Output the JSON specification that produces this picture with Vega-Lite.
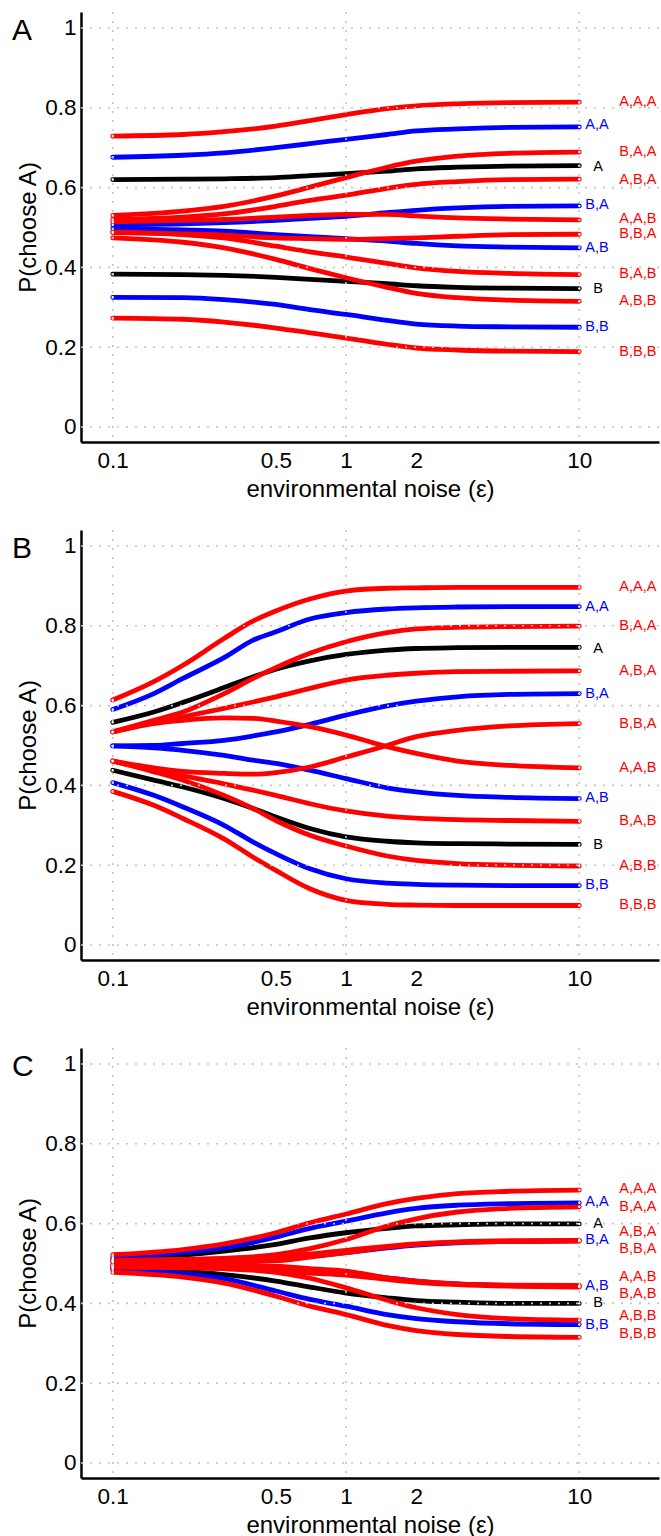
{
"$schema": "https://vega.github.io/schema/vega-lite/v6.json",
"padding": {"left": 12, "top": 11, "right": 0, "bottom": 0},
"spacing": 88,
"bounds": "flush",
"config": {
  "font": "Liberation Sans",
  "view": {"stroke": null},
  "axis": {"grid": false, "ticks": false, "tickSize": 0, "domainColor": "black", "domainWidth": 2.5, "labelFontSize": 22.5, "labelColor": "black", "titleFontSize": 24, "titleFontWeight": "normal", "titleColor": "black", "labelFont": "Liberation Sans", "titleFont": "Liberation Sans", "labelOverlap": false},
  "axisX": {"labelPadding": 7, "titlePadding": 6},
  "axisY": {"labelPadding": 5, "titlePadding": 4},
  "title": {"anchor": "start", "frame": "group", "orient": "top", "offset": 0, "dx": -69, "dy": 39, "fontSize": 30, "fontWeight": "normal", "font": "Liberation Sans", "color": "black"}
},
"datasets": {
"curves": [
{"p":"A","s":"A","x":0.1,"y":0.620},{"p":"A","s":"A","x":0.2,"y":0.621},{"p":"A","s":"A","x":0.3,"y":0.622},{"p":"A","s":"A","x":0.5,"y":0.625},{"p":"A","s":"A","x":0.7,"y":0.630},{"p":"A","s":"A","x":1,"y":0.635},{"p":"A","s":"A","x":1.5,"y":0.641},{"p":"A","s":"A","x":2,"y":0.647},{"p":"A","s":"A","x":3,"y":0.651},{"p":"A","s":"A","x":5,"y":0.654},{"p":"A","s":"A","x":10,"y":0.655},
{"p":"A","s":"B","x":0.1,"y":0.383},{"p":"A","s":"B","x":0.2,"y":0.382},{"p":"A","s":"B","x":0.3,"y":0.380},{"p":"A","s":"B","x":0.5,"y":0.375},{"p":"A","s":"B","x":0.7,"y":0.370},{"p":"A","s":"B","x":1,"y":0.365},{"p":"A","s":"B","x":1.5,"y":0.359},{"p":"A","s":"B","x":2,"y":0.354},{"p":"A","s":"B","x":3,"y":0.350},{"p":"A","s":"B","x":5,"y":0.348},{"p":"A","s":"B","x":10,"y":0.347},
{"p":"A","s":"A,A","x":0.1,"y":0.676},{"p":"A","s":"A,A","x":0.2,"y":0.681},{"p":"A","s":"A,A","x":0.3,"y":0.687},{"p":"A","s":"A,A","x":0.5,"y":0.700},{"p":"A","s":"A,A","x":0.7,"y":0.710},{"p":"A","s":"A,A","x":1,"y":0.721},{"p":"A","s":"A,A","x":1.5,"y":0.733},{"p":"A","s":"A,A","x":2,"y":0.742},{"p":"A","s":"A,A","x":3,"y":0.747},{"p":"A","s":"A,A","x":5,"y":0.751},{"p":"A","s":"A,A","x":10,"y":0.752},
{"p":"A","s":"A,B","x":0.1,"y":0.497},{"p":"A","s":"A,B","x":0.2,"y":0.494},{"p":"A","s":"A,B","x":0.3,"y":0.491},{"p":"A","s":"A,B","x":0.5,"y":0.482},{"p":"A","s":"A,B","x":0.7,"y":0.477},{"p":"A","s":"A,B","x":1,"y":0.472},{"p":"A","s":"A,B","x":1.5,"y":0.466},{"p":"A","s":"A,B","x":2,"y":0.460},{"p":"A","s":"A,B","x":3,"y":0.454},{"p":"A","s":"A,B","x":5,"y":0.451},{"p":"A","s":"A,B","x":10,"y":0.449},
{"p":"A","s":"B,A","x":0.1,"y":0.507},{"p":"A","s":"B,A","x":0.2,"y":0.509},{"p":"A","s":"B,A","x":0.3,"y":0.512},{"p":"A","s":"B,A","x":0.5,"y":0.518},{"p":"A","s":"B,A","x":0.7,"y":0.523},{"p":"A","s":"B,A","x":1,"y":0.528},{"p":"A","s":"B,A","x":1.5,"y":0.537},{"p":"A","s":"B,A","x":2,"y":0.543},{"p":"A","s":"B,A","x":3,"y":0.549},{"p":"A","s":"B,A","x":5,"y":0.553},{"p":"A","s":"B,A","x":10,"y":0.554},
{"p":"A","s":"B,B","x":0.1,"y":0.325},{"p":"A","s":"B,B","x":0.2,"y":0.324},{"p":"A","s":"B,B","x":0.3,"y":0.319},{"p":"A","s":"B,B","x":0.5,"y":0.307},{"p":"A","s":"B,B","x":0.7,"y":0.294},{"p":"A","s":"B,B","x":1,"y":0.282},{"p":"A","s":"B,B","x":1.5,"y":0.267},{"p":"A","s":"B,B","x":2,"y":0.258},{"p":"A","s":"B,B","x":3,"y":0.253},{"p":"A","s":"B,B","x":5,"y":0.251},{"p":"A","s":"B,B","x":10,"y":0.250},
{"p":"A","s":"A,A,A","x":0.1,"y":0.729},{"p":"A","s":"A,A,A","x":0.2,"y":0.733},{"p":"A","s":"A,A,A","x":0.3,"y":0.740},{"p":"A","s":"A,A,A","x":0.5,"y":0.754},{"p":"A","s":"A,A,A","x":0.7,"y":0.768},{"p":"A","s":"A,A,A","x":1,"y":0.783},{"p":"A","s":"A,A,A","x":1.5,"y":0.798},{"p":"A","s":"A,A,A","x":2,"y":0.805},{"p":"A","s":"A,A,A","x":3,"y":0.810},{"p":"A","s":"A,A,A","x":5,"y":0.813},{"p":"A","s":"A,A,A","x":10,"y":0.814},
{"p":"A","s":"A,A,B","x":0.1,"y":0.514},{"p":"A","s":"A,A,B","x":0.2,"y":0.518},{"p":"A","s":"A,A,B","x":0.3,"y":0.520},{"p":"A","s":"A,A,B","x":0.5,"y":0.526},{"p":"A","s":"A,A,B","x":0.7,"y":0.530},{"p":"A","s":"A,A,B","x":1,"y":0.533},{"p":"A","s":"A,A,B","x":1.5,"y":0.533},{"p":"A","s":"A,A,B","x":2,"y":0.529},{"p":"A","s":"A,A,B","x":3,"y":0.524},{"p":"A","s":"A,A,B","x":5,"y":0.521},{"p":"A","s":"A,A,B","x":10,"y":0.519},
{"p":"A","s":"A,B,A","x":0.1,"y":0.520},{"p":"A","s":"A,B,A","x":0.2,"y":0.526},{"p":"A","s":"A,B,A","x":0.3,"y":0.534},{"p":"A","s":"A,B,A","x":0.5,"y":0.553},{"p":"A","s":"A,B,A","x":0.7,"y":0.568},{"p":"A","s":"A,B,A","x":1,"y":0.581},{"p":"A","s":"A,B,A","x":1.5,"y":0.598},{"p":"A","s":"A,B,A","x":2,"y":0.608},{"p":"A","s":"A,B,A","x":3,"y":0.615},{"p":"A","s":"A,B,A","x":5,"y":0.620},{"p":"A","s":"A,B,A","x":10,"y":0.621},
{"p":"A","s":"A,B,B","x":0.1,"y":0.474},{"p":"A","s":"A,B,B","x":0.2,"y":0.463},{"p":"A","s":"A,B,B","x":0.3,"y":0.449},{"p":"A","s":"A,B,B","x":0.5,"y":0.420},{"p":"A","s":"A,B,B","x":0.7,"y":0.397},{"p":"A","s":"A,B,B","x":1,"y":0.374},{"p":"A","s":"A,B,B","x":1.5,"y":0.350},{"p":"A","s":"A,B,B","x":2,"y":0.335},{"p":"A","s":"A,B,B","x":3,"y":0.324},{"p":"A","s":"A,B,B","x":5,"y":0.318},{"p":"A","s":"A,B,B","x":10,"y":0.315},
{"p":"A","s":"B,A,A","x":0.1,"y":0.530},{"p":"A","s":"B,A,A","x":0.2,"y":0.541},{"p":"A","s":"B,A,A","x":0.3,"y":0.553},{"p":"A","s":"B,A,A","x":0.5,"y":0.579},{"p":"A","s":"B,A,A","x":0.7,"y":0.601},{"p":"A","s":"B,A,A","x":1,"y":0.625},{"p":"A","s":"B,A,A","x":1.5,"y":0.651},{"p":"A","s":"B,A,A","x":2,"y":0.666},{"p":"A","s":"B,A,A","x":3,"y":0.679},{"p":"A","s":"B,A,A","x":5,"y":0.686},{"p":"A","s":"B,A,A","x":10,"y":0.689},
{"p":"A","s":"B,A,B","x":0.1,"y":0.489},{"p":"A","s":"B,A,B","x":0.2,"y":0.482},{"p":"A","s":"B,A,B","x":0.3,"y":0.474},{"p":"A","s":"B,A,B","x":0.5,"y":0.453},{"p":"A","s":"B,A,B","x":0.7,"y":0.439},{"p":"A","s":"B,A,B","x":1,"y":0.426},{"p":"A","s":"B,A,B","x":1.5,"y":0.410},{"p":"A","s":"B,A,B","x":2,"y":0.399},{"p":"A","s":"B,A,B","x":3,"y":0.390},{"p":"A","s":"B,A,B","x":5,"y":0.385},{"p":"A","s":"B,A,B","x":10,"y":0.382},
{"p":"A","s":"B,B,A","x":0.1,"y":0.487},{"p":"A","s":"B,B,A","x":0.2,"y":0.484},{"p":"A","s":"B,B,A","x":0.3,"y":0.481},{"p":"A","s":"B,B,A","x":0.5,"y":0.474},{"p":"A","s":"B,B,A","x":0.7,"y":0.472},{"p":"A","s":"B,B,A","x":1,"y":0.470},{"p":"A","s":"B,B,A","x":1.5,"y":0.472},{"p":"A","s":"B,B,A","x":2,"y":0.474},{"p":"A","s":"B,B,A","x":3,"y":0.478},{"p":"A","s":"B,B,A","x":5,"y":0.482},{"p":"A","s":"B,B,A","x":10,"y":0.483},
{"p":"A","s":"B,B,B","x":0.1,"y":0.273},{"p":"A","s":"B,B,B","x":0.2,"y":0.270},{"p":"A","s":"B,B,B","x":0.3,"y":0.263},{"p":"A","s":"B,B,B","x":0.5,"y":0.248},{"p":"A","s":"B,B,B","x":0.7,"y":0.236},{"p":"A","s":"B,B,B","x":1,"y":0.223},{"p":"A","s":"B,B,B","x":1.5,"y":0.207},{"p":"A","s":"B,B,B","x":2,"y":0.198},{"p":"A","s":"B,B,B","x":3,"y":0.193},{"p":"A","s":"B,B,B","x":5,"y":0.190},{"p":"A","s":"B,B,B","x":10,"y":0.189},

{"p":"B","s":"A","x":0.1,"y":0.558},{"p":"B","s":"A","x":0.15,"y":0.584},{"p":"B","s":"A","x":0.2,"y":0.608},{"p":"B","s":"A","x":0.3,"y":0.645},{"p":"B","s":"A","x":0.4,"y":0.672},{"p":"B","s":"A","x":0.5,"y":0.691},{"p":"B","s":"A","x":0.7,"y":0.712},{"p":"B","s":"A","x":1,"y":0.728},{"p":"B","s":"A","x":1.5,"y":0.739},{"p":"B","s":"A","x":2,"y":0.743},{"p":"B","s":"A","x":3,"y":0.745},{"p":"B","s":"A","x":5,"y":0.746},{"p":"B","s":"A","x":10,"y":0.746},
{"p":"B","s":"B","x":0.1,"y":0.438},{"p":"B","s":"B","x":0.15,"y":0.413},{"p":"B","s":"B","x":0.2,"y":0.396},{"p":"B","s":"B","x":0.3,"y":0.367},{"p":"B","s":"B","x":0.4,"y":0.342},{"p":"B","s":"B","x":0.5,"y":0.321},{"p":"B","s":"B","x":0.7,"y":0.292},{"p":"B","s":"B","x":1,"y":0.271},{"p":"B","s":"B","x":1.5,"y":0.260},{"p":"B","s":"B","x":2,"y":0.256},{"p":"B","s":"B","x":3,"y":0.254},{"p":"B","s":"B","x":5,"y":0.253},{"p":"B","s":"B","x":10,"y":0.252},
{"p":"B","s":"A,A","x":0.1,"y":0.590},{"p":"B","s":"A,A","x":0.15,"y":0.630},{"p":"B","s":"A,A","x":0.2,"y":0.668},{"p":"B","s":"A,A","x":0.3,"y":0.720},{"p":"B","s":"A,A","x":0.4,"y":0.764},{"p":"B","s":"A,A","x":0.5,"y":0.785},{"p":"B","s":"A,A","x":0.7,"y":0.817},{"p":"B","s":"A,A","x":1,"y":0.833},{"p":"B","s":"A,A","x":1.5,"y":0.842},{"p":"B","s":"A,A","x":2,"y":0.845},{"p":"B","s":"A,A","x":3,"y":0.847},{"p":"B","s":"A,A","x":5,"y":0.848},{"p":"B","s":"A,A","x":10,"y":0.848},
{"p":"B","s":"A,B","x":0.1,"y":0.499},{"p":"B","s":"A,B","x":0.15,"y":0.494},{"p":"B","s":"A,B","x":0.2,"y":0.488},{"p":"B","s":"A,B","x":0.3,"y":0.475},{"p":"B","s":"A,B","x":0.4,"y":0.463},{"p":"B","s":"A,B","x":0.5,"y":0.455},{"p":"B","s":"A,B","x":0.7,"y":0.438},{"p":"B","s":"A,B","x":1,"y":0.417},{"p":"B","s":"A,B","x":1.5,"y":0.394},{"p":"B","s":"A,B","x":2,"y":0.384},{"p":"B","s":"A,B","x":3,"y":0.375},{"p":"B","s":"A,B","x":5,"y":0.370},{"p":"B","s":"A,B","x":10,"y":0.367},
{"p":"B","s":"B,A","x":0.1,"y":0.499},{"p":"B","s":"B,A","x":0.15,"y":0.500},{"p":"B","s":"B,A","x":0.2,"y":0.505},{"p":"B","s":"B,A","x":0.3,"y":0.513},{"p":"B","s":"B,A","x":0.4,"y":0.524},{"p":"B","s":"B,A","x":0.5,"y":0.534},{"p":"B","s":"B,A","x":0.7,"y":0.553},{"p":"B","s":"B,A","x":1,"y":0.576},{"p":"B","s":"B,A","x":1.5,"y":0.599},{"p":"B","s":"B,A","x":2,"y":0.611},{"p":"B","s":"B,A","x":3,"y":0.622},{"p":"B","s":"B,A","x":5,"y":0.628},{"p":"B","s":"B,A","x":10,"y":0.630},
{"p":"B","s":"B,B","x":0.1,"y":0.407},{"p":"B","s":"B,B","x":0.15,"y":0.375},{"p":"B","s":"B,B","x":0.2,"y":0.346},{"p":"B","s":"B,B","x":0.3,"y":0.300},{"p":"B","s":"B,B","x":0.4,"y":0.258},{"p":"B","s":"B,B","x":0.5,"y":0.229},{"p":"B","s":"B,B","x":0.7,"y":0.191},{"p":"B","s":"B,B","x":1,"y":0.166},{"p":"B","s":"B,B","x":1.5,"y":0.155},{"p":"B","s":"B,B","x":2,"y":0.152},{"p":"B","s":"B,B","x":3,"y":0.150},{"p":"B","s":"B,B","x":5,"y":0.149},{"p":"B","s":"B,B","x":10,"y":0.149},
{"p":"B","s":"A,A,A","x":0.1,"y":0.614},{"p":"B","s":"A,A,A","x":0.15,"y":0.660},{"p":"B","s":"A,A,A","x":0.2,"y":0.701},{"p":"B","s":"A,A,A","x":0.3,"y":0.768},{"p":"B","s":"A,A,A","x":0.4,"y":0.812},{"p":"B","s":"A,A,A","x":0.5,"y":0.837},{"p":"B","s":"A,A,A","x":0.7,"y":0.867},{"p":"B","s":"A,A,A","x":1,"y":0.887},{"p":"B","s":"A,A,A","x":1.5,"y":0.894},{"p":"B","s":"A,A,A","x":2,"y":0.895},{"p":"B","s":"A,A,A","x":3,"y":0.896},{"p":"B","s":"A,A,A","x":5,"y":0.896},{"p":"B","s":"A,A,A","x":10,"y":0.896},
{"p":"B","s":"A,A,B","x":0.1,"y":0.534},{"p":"B","s":"A,A,B","x":0.15,"y":0.555},{"p":"B","s":"A,A,B","x":0.2,"y":0.563},{"p":"B","s":"A,A,B","x":0.3,"y":0.569},{"p":"B","s":"A,A,B","x":0.4,"y":0.568},{"p":"B","s":"A,A,B","x":0.5,"y":0.561},{"p":"B","s":"A,A,B","x":0.7,"y":0.547},{"p":"B","s":"A,A,B","x":1,"y":0.526},{"p":"B","s":"A,A,B","x":1.5,"y":0.497},{"p":"B","s":"A,A,B","x":2,"y":0.480},{"p":"B","s":"A,A,B","x":3,"y":0.461},{"p":"B","s":"A,A,B","x":5,"y":0.450},{"p":"B","s":"A,A,B","x":10,"y":0.444},
{"p":"B","s":"A,B,A","x":0.1,"y":0.534},{"p":"B","s":"A,B,A","x":0.15,"y":0.558},{"p":"B","s":"A,B,A","x":0.2,"y":0.572},{"p":"B","s":"A,B,A","x":0.3,"y":0.593},{"p":"B","s":"A,B,A","x":0.4,"y":0.609},{"p":"B","s":"A,B,A","x":0.5,"y":0.622},{"p":"B","s":"A,B,A","x":0.7,"y":0.643},{"p":"B","s":"A,B,A","x":1,"y":0.664},{"p":"B","s":"A,B,A","x":1.5,"y":0.676},{"p":"B","s":"A,B,A","x":2,"y":0.681},{"p":"B","s":"A,B,A","x":3,"y":0.685},{"p":"B","s":"A,B,A","x":5,"y":0.686},{"p":"B","s":"A,B,A","x":10,"y":0.687},
{"p":"B","s":"A,B,B","x":0.1,"y":0.461},{"p":"B","s":"A,B,B","x":0.15,"y":0.434},{"p":"B","s":"A,B,B","x":0.2,"y":0.413},{"p":"B","s":"A,B,B","x":0.3,"y":0.375},{"p":"B","s":"A,B,B","x":0.4,"y":0.342},{"p":"B","s":"A,B,B","x":0.5,"y":0.312},{"p":"B","s":"A,B,B","x":0.7,"y":0.275},{"p":"B","s":"A,B,B","x":1,"y":0.248},{"p":"B","s":"A,B,B","x":1.5,"y":0.223},{"p":"B","s":"A,B,B","x":2,"y":0.212},{"p":"B","s":"A,B,B","x":3,"y":0.204},{"p":"B","s":"A,B,B","x":5,"y":0.200},{"p":"B","s":"A,B,B","x":10,"y":0.198},
{"p":"B","s":"B,A,A","x":0.1,"y":0.534},{"p":"B","s":"B,A,A","x":0.15,"y":0.563},{"p":"B","s":"B,A,A","x":0.2,"y":0.584},{"p":"B","s":"B,A,A","x":0.3,"y":0.630},{"p":"B","s":"B,A,A","x":0.4,"y":0.668},{"p":"B","s":"B,A,A","x":0.5,"y":0.695},{"p":"B","s":"B,A,A","x":0.7,"y":0.731},{"p":"B","s":"B,A,A","x":1,"y":0.760},{"p":"B","s":"B,A,A","x":1.5,"y":0.783},{"p":"B","s":"B,A,A","x":2,"y":0.792},{"p":"B","s":"B,A,A","x":3,"y":0.796},{"p":"B","s":"B,A,A","x":5,"y":0.798},{"p":"B","s":"B,A,A","x":10,"y":0.799},
{"p":"B","s":"B,A,B","x":0.1,"y":0.461},{"p":"B","s":"B,A,B","x":0.15,"y":0.438},{"p":"B","s":"B,A,B","x":0.2,"y":0.424},{"p":"B","s":"B,A,B","x":0.3,"y":0.404},{"p":"B","s":"B,A,B","x":0.4,"y":0.388},{"p":"B","s":"B,A,B","x":0.5,"y":0.375},{"p":"B","s":"B,A,B","x":0.7,"y":0.354},{"p":"B","s":"B,A,B","x":1,"y":0.336},{"p":"B","s":"B,A,B","x":1.5,"y":0.323},{"p":"B","s":"B,A,B","x":2,"y":0.318},{"p":"B","s":"B,A,B","x":3,"y":0.314},{"p":"B","s":"B,A,B","x":5,"y":0.312},{"p":"B","s":"B,A,B","x":10,"y":0.310},
{"p":"B","s":"B,B,A","x":0.1,"y":0.461},{"p":"B","s":"B,B,A","x":0.15,"y":0.444},{"p":"B","s":"B,B,A","x":0.2,"y":0.435},{"p":"B","s":"B,B,A","x":0.3,"y":0.430},{"p":"B","s":"B,B,A","x":0.4,"y":0.428},{"p":"B","s":"B,B,A","x":0.5,"y":0.432},{"p":"B","s":"B,B,A","x":0.7,"y":0.446},{"p":"B","s":"B,B,A","x":1,"y":0.471},{"p":"B","s":"B,B,A","x":1.5,"y":0.500},{"p":"B","s":"B,B,A","x":2,"y":0.522},{"p":"B","s":"B,B,A","x":3,"y":0.538},{"p":"B","s":"B,B,A","x":5,"y":0.549},{"p":"B","s":"B,B,A","x":10,"y":0.555},
{"p":"B","s":"B,B,B","x":0.1,"y":0.385},{"p":"B","s":"B,B,B","x":0.15,"y":0.350},{"p":"B","s":"B,B,B","x":0.2,"y":0.317},{"p":"B","s":"B,B,B","x":0.3,"y":0.266},{"p":"B","s":"B,B,B","x":0.4,"y":0.220},{"p":"B","s":"B,B,B","x":0.5,"y":0.187},{"p":"B","s":"B,B,B","x":0.7,"y":0.141},{"p":"B","s":"B,B,B","x":1,"y":0.112},{"p":"B","s":"B,B,B","x":1.5,"y":0.102},{"p":"B","s":"B,B,B","x":2,"y":0.100},{"p":"B","s":"B,B,B","x":3,"y":0.099},{"p":"B","s":"B,B,B","x":5,"y":0.099},{"p":"B","s":"B,B,B","x":10,"y":0.099},

{"p":"C","s":"A","x":0.1,"y":0.512},{"p":"C","s":"A","x":0.2,"y":0.521},{"p":"C","s":"A","x":0.3,"y":0.531},{"p":"C","s":"A","x":0.5,"y":0.548},{"p":"C","s":"A","x":0.7,"y":0.564},{"p":"C","s":"A","x":1,"y":0.577},{"p":"C","s":"A","x":1.5,"y":0.588},{"p":"C","s":"A","x":2,"y":0.594},{"p":"C","s":"A","x":3,"y":0.597},{"p":"C","s":"A","x":5,"y":0.599},{"p":"C","s":"A","x":10,"y":0.599},
{"p":"C","s":"B","x":0.1,"y":0.489},{"p":"C","s":"B","x":0.2,"y":0.481},{"p":"C","s":"B","x":0.3,"y":0.472},{"p":"C","s":"B","x":0.5,"y":0.456},{"p":"C","s":"B","x":0.7,"y":0.441},{"p":"C","s":"B","x":1,"y":0.426},{"p":"C","s":"B","x":1.5,"y":0.414},{"p":"C","s":"B","x":2,"y":0.407},{"p":"C","s":"B","x":3,"y":0.403},{"p":"C","s":"B","x":5,"y":0.400},{"p":"C","s":"B","x":10,"y":0.400},
{"p":"C","s":"A,A","x":0.1,"y":0.516},{"p":"C","s":"A,A","x":0.2,"y":0.527},{"p":"C","s":"A,A","x":0.3,"y":0.539},{"p":"C","s":"A,A","x":0.5,"y":0.566},{"p":"C","s":"A,A","x":0.7,"y":0.588},{"p":"C","s":"A,A","x":1,"y":0.606},{"p":"C","s":"A,A","x":1.5,"y":0.627},{"p":"C","s":"A,A","x":2,"y":0.638},{"p":"C","s":"A,A","x":3,"y":0.646},{"p":"C","s":"A,A","x":5,"y":0.650},{"p":"C","s":"A,A","x":10,"y":0.652},
{"p":"C","s":"A,B","x":0.1,"y":0.496},{"p":"C","s":"A,B","x":0.2,"y":0.493},{"p":"C","s":"A,B","x":0.3,"y":0.491},{"p":"C","s":"A,B","x":0.5,"y":0.485},{"p":"C","s":"A,B","x":0.7,"y":0.481},{"p":"C","s":"A,B","x":1,"y":0.475},{"p":"C","s":"A,B","x":1.5,"y":0.464},{"p":"C","s":"A,B","x":2,"y":0.456},{"p":"C","s":"A,B","x":3,"y":0.449},{"p":"C","s":"A,B","x":5,"y":0.445},{"p":"C","s":"A,B","x":10,"y":0.443},
{"p":"C","s":"B,A","x":0.1,"y":0.506},{"p":"C","s":"B,A","x":0.2,"y":0.507},{"p":"C","s":"B,A","x":0.3,"y":0.508},{"p":"C","s":"B,A","x":0.5,"y":0.512},{"p":"C","s":"B,A","x":0.7,"y":0.518},{"p":"C","s":"B,A","x":1,"y":0.527},{"p":"C","s":"B,A","x":1.5,"y":0.539},{"p":"C","s":"B,A","x":2,"y":0.546},{"p":"C","s":"B,A","x":3,"y":0.552},{"p":"C","s":"B,A","x":5,"y":0.555},{"p":"C","s":"B,A","x":10,"y":0.557},
{"p":"C","s":"B,B","x":0.1,"y":0.485},{"p":"C","s":"B,B","x":0.2,"y":0.474},{"p":"C","s":"B,B","x":0.3,"y":0.462},{"p":"C","s":"B,B","x":0.5,"y":0.431},{"p":"C","s":"B,B","x":0.7,"y":0.410},{"p":"C","s":"B,B","x":1,"y":0.393},{"p":"C","s":"B,B","x":1.5,"y":0.372},{"p":"C","s":"B,B","x":2,"y":0.362},{"p":"C","s":"B,B","x":3,"y":0.354},{"p":"C","s":"B,B","x":5,"y":0.349},{"p":"C","s":"B,B","x":10,"y":0.347},
{"p":"C","s":"A,A,A","x":0.1,"y":0.522},{"p":"C","s":"A,A,A","x":0.2,"y":0.535},{"p":"C","s":"A,A,A","x":0.3,"y":0.549},{"p":"C","s":"A,A,A","x":0.5,"y":0.577},{"p":"C","s":"A,A,A","x":0.7,"y":0.602},{"p":"C","s":"A,A,A","x":1,"y":0.624},{"p":"C","s":"A,A,A","x":1.5,"y":0.650},{"p":"C","s":"A,A,A","x":2,"y":0.663},{"p":"C","s":"A,A,A","x":3,"y":0.675},{"p":"C","s":"A,A,A","x":5,"y":0.681},{"p":"C","s":"A,A,A","x":10,"y":0.684},
{"p":"C","s":"A,A,B","x":0.1,"y":0.497},{"p":"C","s":"A,A,B","x":0.2,"y":0.497},{"p":"C","s":"A,A,B","x":0.3,"y":0.496},{"p":"C","s":"A,A,B","x":0.5,"y":0.493},{"p":"C","s":"A,A,B","x":0.7,"y":0.487},{"p":"C","s":"A,A,B","x":1,"y":0.481},{"p":"C","s":"A,A,B","x":1.5,"y":0.464},{"p":"C","s":"A,A,B","x":2,"y":0.456},{"p":"C","s":"A,A,B","x":3,"y":0.449},{"p":"C","s":"A,A,B","x":5,"y":0.446},{"p":"C","s":"A,A,B","x":10,"y":0.445},
{"p":"C","s":"A,B,A","x":0.1,"y":0.507},{"p":"C","s":"A,B,A","x":0.2,"y":0.510},{"p":"C","s":"A,B,A","x":0.3,"y":0.512},{"p":"C","s":"A,B,A","x":0.5,"y":0.518},{"p":"C","s":"A,B,A","x":0.7,"y":0.524},{"p":"C","s":"A,B,A","x":1,"y":0.533},{"p":"C","s":"A,B,A","x":1.5,"y":0.543},{"p":"C","s":"A,B,A","x":2,"y":0.549},{"p":"C","s":"A,B,A","x":3,"y":0.554},{"p":"C","s":"A,B,A","x":5,"y":0.557},{"p":"C","s":"A,B,A","x":10,"y":0.558},
{"p":"C","s":"A,B,B","x":0.1,"y":0.492},{"p":"C","s":"A,B,B","x":0.2,"y":0.490},{"p":"C","s":"A,B,B","x":0.3,"y":0.487},{"p":"C","s":"A,B,B","x":0.5,"y":0.478},{"p":"C","s":"A,B,B","x":0.7,"y":0.463},{"p":"C","s":"A,B,B","x":1,"y":0.439},{"p":"C","s":"A,B,B","x":1.5,"y":0.408},{"p":"C","s":"A,B,B","x":2,"y":0.389},{"p":"C","s":"A,B,B","x":3,"y":0.372},{"p":"C","s":"A,B,B","x":5,"y":0.362},{"p":"C","s":"A,B,B","x":10,"y":0.358},
{"p":"C","s":"B,A,A","x":0.1,"y":0.508},{"p":"C","s":"B,A,A","x":0.2,"y":0.510},{"p":"C","s":"B,A,A","x":0.3,"y":0.513},{"p":"C","s":"B,A,A","x":0.5,"y":0.522},{"p":"C","s":"B,A,A","x":0.7,"y":0.537},{"p":"C","s":"B,A,A","x":1,"y":0.560},{"p":"C","s":"B,A,A","x":1.5,"y":0.594},{"p":"C","s":"B,A,A","x":2,"y":0.612},{"p":"C","s":"B,A,A","x":3,"y":0.629},{"p":"C","s":"B,A,A","x":5,"y":0.638},{"p":"C","s":"B,A,A","x":10,"y":0.642},
{"p":"C","s":"B,A,B","x":0.1,"y":0.491},{"p":"C","s":"B,A,B","x":0.2,"y":0.489},{"p":"C","s":"B,A,B","x":0.3,"y":0.487},{"p":"C","s":"B,A,B","x":0.5,"y":0.482},{"p":"C","s":"B,A,B","x":0.7,"y":0.476},{"p":"C","s":"B,A,B","x":1,"y":0.471},{"p":"C","s":"B,A,B","x":1.5,"y":0.460},{"p":"C","s":"B,A,B","x":2,"y":0.453},{"p":"C","s":"B,A,B","x":3,"y":0.447},{"p":"C","s":"B,A,B","x":5,"y":0.443},{"p":"C","s":"B,A,B","x":10,"y":0.441},
{"p":"C","s":"B,B,A","x":0.1,"y":0.504},{"p":"C","s":"B,B,A","x":0.2,"y":0.504},{"p":"C","s":"B,B,A","x":0.3,"y":0.504},{"p":"C","s":"B,B,A","x":0.5,"y":0.507},{"p":"C","s":"B,B,A","x":0.7,"y":0.516},{"p":"C","s":"B,B,A","x":1,"y":0.527},{"p":"C","s":"B,B,A","x":1.5,"y":0.541},{"p":"C","s":"B,B,A","x":2,"y":0.548},{"p":"C","s":"B,B,A","x":3,"y":0.553},{"p":"C","s":"B,B,A","x":5,"y":0.555},{"p":"C","s":"B,B,A","x":10,"y":0.556},
{"p":"C","s":"B,B,B","x":0.1,"y":0.478},{"p":"C","s":"B,B,B","x":0.2,"y":0.466},{"p":"C","s":"B,B,B","x":0.3,"y":0.451},{"p":"C","s":"B,B,B","x":0.5,"y":0.418},{"p":"C","s":"B,B,B","x":0.7,"y":0.393},{"p":"C","s":"B,B,B","x":1,"y":0.372},{"p":"C","s":"B,B,B","x":1.5,"y":0.345},{"p":"C","s":"B,B,B","x":2,"y":0.332},{"p":"C","s":"B,B,B","x":3,"y":0.322},{"p":"C","s":"B,B,B","x":5,"y":0.317},{"p":"C","s":"B,B,B","x":10,"y":0.315}
],
"labels": [
{"p":"A","s":"A,A,A","y":0.814},{"p":"A","s":"A,A","y":0.756},{"p":"A","s":"B,A,A","y":0.690},{"p":"A","s":"A","y":0.652},{"p":"A","s":"A,B,A","y":0.620},{"p":"A","s":"B,A","y":0.556},{"p":"A","s":"A,A,B","y":0.522},{"p":"A","s":"B,B,A","y":0.484},{"p":"A","s":"A,B","y":0.449},{"p":"A","s":"B,A,B","y":0.384},{"p":"A","s":"B","y":0.346},{"p":"A","s":"A,B,B","y":0.317},{"p":"A","s":"B,B","y":0.250},{"p":"A","s":"B,B,B","y":0.189},
{"p":"B","s":"A,A,A","y":0.898},{"p":"B","s":"A,A","y":0.848},{"p":"B","s":"B,A,A","y":0.799},{"p":"B","s":"A","y":0.743},{"p":"B","s":"A,B,A","y":0.687},{"p":"B","s":"B,A","y":0.629},{"p":"B","s":"B,B,A","y":0.553},{"p":"B","s":"A,A,B","y":0.444},{"p":"B","s":"A,B","y":0.368},{"p":"B","s":"B,A,B","y":0.310},{"p":"B","s":"B","y":0.251},{"p":"B","s":"A,B,B","y":0.198},{"p":"B","s":"B,B","y":0.151},{"p":"B","s":"B,B,B","y":0.101},
{"p":"C","s":"A,A,A","y":0.687},{"p":"C","s":"A,A","y":0.654},{"p":"C","s":"B,A,A","y":0.642},{"p":"C","s":"A","y":0.598},{"p":"C","s":"A,B,A","y":0.578},{"p":"C","s":"B,A","y":0.560},{"p":"C","s":"B,B,A","y":0.537},{"p":"C","s":"A,A,B","y":0.465},{"p":"C","s":"A,B","y":0.443},{"p":"C","s":"B,A,B","y":0.424},{"p":"C","s":"B","y":0.400},{"p":"C","s":"A,B,B","y":0.368},{"p":"C","s":"B,B","y":0.347},{"p":"C","s":"B,B,B","y":0.324}
],
"vgrid": [{"x":0.1},{"x":1},{"x":10}],
"hgrid": [{"y":0},{"y":0.2},{"y":0.4},{"y":0.6},{"y":0.8},{"y":1}]
},
"vconcat": [
{
"width": 578, "height": 430,
"title": {"text": "A"},
"layer": [
{"data": {"name": "curves"}, "transform": [{"filter": "datum.p=='A'"}],
 "mark": {"type": "line", "strokeWidth": 4.8, "interpolate": "monotone", "strokeCap": "round"},
 "encoding": {
  "x": {"field": "x", "type": "quantitative", "scale": {"type": "log", "domain": [0.0731, 21.96], "nice": false}, "axis": {"values": [0.1,0.5,1,2,10], "format": "~g", "title": "environmental noise (ε)"}},
  "y": {"field": "y", "type": "quantitative", "scale": {"domain": [-0.0376, 1.04], "nice": false, "zero": false}, "axis": {"values": [0,0.2,0.4,0.6,0.8,1], "format": "~g", "title": "P(choose A)"}},
  "color": {"field": "s", "type": "nominal", "scale": {"domain": ["A","B","A,A","A,B","B,A","B,B","A,A,A","A,A,B","A,B,A","A,B,B","B,A,A","B,A,B","B,B,A","B,B,B"], "range": ["#000000","#000000","#0000ff","#0000ff","#0000ff","#0000ff","#ff0000","#ff0000","#ff0000","#ff0000","#ff0000","#ff0000","#ff0000","#ff0000"]}, "legend": null}
 }},
{"data": {"name": "curves"}, "transform": [{"filter": "datum.p=='A' && (datum.x==0.1 || datum.x==10)"}],
 "mark": {"type": "point", "filled": true, "color": "white", "size": 6, "opacity": 1},
 "encoding": {"x": {"field": "x", "type": "quantitative"}, "y": {"field": "y", "type": "quantitative"}}},
{"data": {"name": "vgrid"}, "mark": {"type": "rule", "color": "#c4c4c4", "strokeDash": [2,7], "strokeWidth": 1.6}, "encoding": {"x": {"field": "x", "type": "quantitative"}}},
{"data": {"name": "hgrid"}, "mark": {"type": "rule", "color": "#c4c4c4", "strokeDash": [2,7], "strokeWidth": 1.6}, "encoding": {"y": {"field": "y", "type": "quantitative"}}},
{"data": {"name": "labels"}, "transform": [{"filter": "datum.p=='A' && length(datum.s)==5"}], "mark": {"type": "text", "align": "left", "baseline": "middle", "dx": 40, "fontSize": 14.5, "color": "#ff0000"}, "encoding": {"x": {"datum": 10, "type": "quantitative"}, "y": {"field": "y", "type": "quantitative"}, "text": {"field": "s"}}},
{"data": {"name": "labels"}, "transform": [{"filter": "datum.p=='A' && length(datum.s)==3"}], "mark": {"type": "text", "align": "left", "baseline": "middle", "dx": 6, "fontSize": 14.5, "color": "#0000ff"}, "encoding": {"x": {"datum": 10, "type": "quantitative"}, "y": {"field": "y", "type": "quantitative"}, "text": {"field": "s"}}},
{"data": {"name": "labels"}, "transform": [{"filter": "datum.p=='A' && length(datum.s)==1"}], "mark": {"type": "text", "align": "left", "baseline": "middle", "dx": 14, "fontSize": 14.5, "color": "#000000"}, "encoding": {"x": {"datum": 10, "type": "quantitative"}, "y": {"field": "y", "type": "quantitative"}, "text": {"field": "s"}}}
]
},
{
"width": 578, "height": 430,
"title": {"text": "B"},
"layer": [
{"data": {"name": "curves"}, "transform": [{"filter": "datum.p=='B'"}],
 "mark": {"type": "line", "strokeWidth": 4.8, "interpolate": "monotone", "strokeCap": "round"},
 "encoding": {
  "x": {"field": "x", "type": "quantitative", "scale": {"type": "log", "domain": [0.0731, 21.96], "nice": false}, "axis": {"values": [0.1,0.5,1,2,10], "format": "~g", "title": "environmental noise (ε)"}},
  "y": {"field": "y", "type": "quantitative", "scale": {"domain": [-0.0376, 1.04], "nice": false, "zero": false}, "axis": {"values": [0,0.2,0.4,0.6,0.8,1], "format": "~g", "title": "P(choose A)"}},
  "color": {"field": "s", "type": "nominal", "scale": {"domain": ["A","B","A,A","A,B","B,A","B,B","A,A,A","A,A,B","A,B,A","A,B,B","B,A,A","B,A,B","B,B,A","B,B,B"], "range": ["#000000","#000000","#0000ff","#0000ff","#0000ff","#0000ff","#ff0000","#ff0000","#ff0000","#ff0000","#ff0000","#ff0000","#ff0000","#ff0000"]}, "legend": null}
 }},
{"data": {"name": "curves"}, "transform": [{"filter": "datum.p=='B' && (datum.x==0.1 || datum.x==10)"}],
 "mark": {"type": "point", "filled": true, "color": "white", "size": 6, "opacity": 1},
 "encoding": {"x": {"field": "x", "type": "quantitative"}, "y": {"field": "y", "type": "quantitative"}}},
{"data": {"name": "vgrid"}, "mark": {"type": "rule", "color": "#c4c4c4", "strokeDash": [2,7], "strokeWidth": 1.6}, "encoding": {"x": {"field": "x", "type": "quantitative"}}},
{"data": {"name": "hgrid"}, "mark": {"type": "rule", "color": "#c4c4c4", "strokeDash": [2,7], "strokeWidth": 1.6}, "encoding": {"y": {"field": "y", "type": "quantitative"}}},
{"data": {"name": "labels"}, "transform": [{"filter": "datum.p=='B' && length(datum.s)==5"}], "mark": {"type": "text", "align": "left", "baseline": "middle", "dx": 40, "fontSize": 14.5, "color": "#ff0000"}, "encoding": {"x": {"datum": 10, "type": "quantitative"}, "y": {"field": "y", "type": "quantitative"}, "text": {"field": "s"}}},
{"data": {"name": "labels"}, "transform": [{"filter": "datum.p=='B' && length(datum.s)==3"}], "mark": {"type": "text", "align": "left", "baseline": "middle", "dx": 6, "fontSize": 14.5, "color": "#0000ff"}, "encoding": {"x": {"datum": 10, "type": "quantitative"}, "y": {"field": "y", "type": "quantitative"}, "text": {"field": "s"}}},
{"data": {"name": "labels"}, "transform": [{"filter": "datum.p=='B' && length(datum.s)==1"}], "mark": {"type": "text", "align": "left", "baseline": "middle", "dx": 14, "fontSize": 14.5, "color": "#000000"}, "encoding": {"x": {"datum": 10, "type": "quantitative"}, "y": {"field": "y", "type": "quantitative"}, "text": {"field": "s"}}}
]
},
{
"width": 578, "height": 430,
"title": {"text": "C"},
"layer": [
{"data": {"name": "curves"}, "transform": [{"filter": "datum.p=='C'"}],
 "mark": {"type": "line", "strokeWidth": 4.8, "interpolate": "monotone", "strokeCap": "round"},
 "encoding": {
  "x": {"field": "x", "type": "quantitative", "scale": {"type": "log", "domain": [0.0731, 21.96], "nice": false}, "axis": {"values": [0.1,0.5,1,2,10], "format": "~g", "title": "environmental noise (ε)"}},
  "y": {"field": "y", "type": "quantitative", "scale": {"domain": [-0.0376, 1.04], "nice": false, "zero": false}, "axis": {"values": [0,0.2,0.4,0.6,0.8,1], "format": "~g", "title": "P(choose A)"}},
  "color": {"field": "s", "type": "nominal", "scale": {"domain": ["A","B","A,A","A,B","B,A","B,B","A,A,A","A,A,B","A,B,A","A,B,B","B,A,A","B,A,B","B,B,A","B,B,B"], "range": ["#000000","#000000","#0000ff","#0000ff","#0000ff","#0000ff","#ff0000","#ff0000","#ff0000","#ff0000","#ff0000","#ff0000","#ff0000","#ff0000"]}, "legend": null}
 }},
{"data": {"name": "curves"}, "transform": [{"filter": "datum.p=='C' && (datum.x==0.1 || datum.x==10)"}],
 "mark": {"type": "point", "filled": true, "color": "white", "size": 6, "opacity": 1},
 "encoding": {"x": {"field": "x", "type": "quantitative"}, "y": {"field": "y", "type": "quantitative"}}},
{"data": {"name": "vgrid"}, "mark": {"type": "rule", "color": "#c4c4c4", "strokeDash": [2,7], "strokeWidth": 1.6}, "encoding": {"x": {"field": "x", "type": "quantitative"}}},
{"data": {"name": "hgrid"}, "mark": {"type": "rule", "color": "#c4c4c4", "strokeDash": [2,7], "strokeWidth": 1.6}, "encoding": {"y": {"field": "y", "type": "quantitative"}}},
{"data": {"name": "labels"}, "transform": [{"filter": "datum.p=='C' && length(datum.s)==5"}], "mark": {"type": "text", "align": "left", "baseline": "middle", "dx": 40, "fontSize": 14.5, "color": "#ff0000"}, "encoding": {"x": {"datum": 10, "type": "quantitative"}, "y": {"field": "y", "type": "quantitative"}, "text": {"field": "s"}}},
{"data": {"name": "labels"}, "transform": [{"filter": "datum.p=='C' && length(datum.s)==3"}], "mark": {"type": "text", "align": "left", "baseline": "middle", "dx": 6, "fontSize": 14.5, "color": "#0000ff"}, "encoding": {"x": {"datum": 10, "type": "quantitative"}, "y": {"field": "y", "type": "quantitative"}, "text": {"field": "s"}}},
{"data": {"name": "labels"}, "transform": [{"filter": "datum.p=='C' && length(datum.s)==1"}], "mark": {"type": "text", "align": "left", "baseline": "middle", "dx": 14, "fontSize": 14.5, "color": "#000000"}, "encoding": {"x": {"datum": 10, "type": "quantitative"}, "y": {"field": "y", "type": "quantitative"}, "text": {"field": "s"}}}
]
}
]
}
